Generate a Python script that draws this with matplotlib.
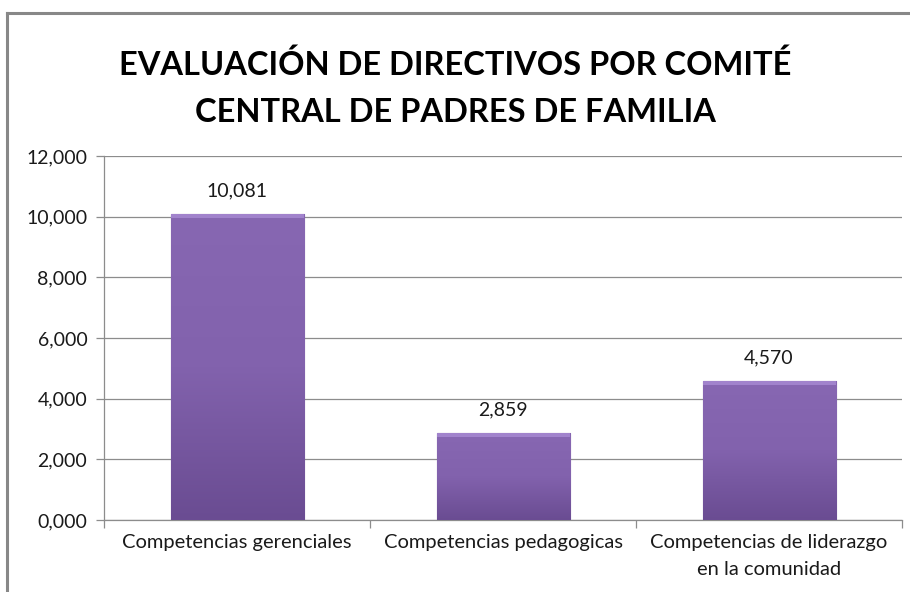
import numpy as np
import matplotlib
matplotlib.use('Agg')
import matplotlib.pyplot as plt
from matplotlib.ticker import FuncFormatter, FixedLocator
from matplotlib.colors import LinearSegmentedColormap
from matplotlib.patches import Rectangle

# Data
CATEGORIES = ['Competencias gerenciales', 'Competencias pedagogicas',
              'Competencias de liderazgo\nen la comunidad']
VALUES = [10.081, 2.859, 4.570]
TITLE = 'EVALUACIÓN DE DIRECTIVOS POR COMITÉ\nCENTRAL DE PADRES DE FAMILIA'

plt.rcParams['font.family'] = ['Lato', 'DejaVu Sans']

fig = plt.figure(figsize=(9.1, 5.92), dpi=100)
ax = fig.add_axes([0.1143, 0.1216, 0.8770, 0.6149])

x = np.arange(len(VALUES))
bars = ax.bar(x, VALUES, width=0.5, color='#7b5ba6', edgecolor='#5e4284',
              linewidth=0.8, zorder=3)

# vertical gradient fill clipped to each bar
cmap = LinearSegmentedColormap.from_list('purp', ['#6a4c92', '#8262ad', '#8767b2'])
grad = np.linspace(0, 1, 256).reshape(-1, 1)
for i, b in enumerate(bars):
    x0, y0 = b.get_x(), b.get_y()
    w, h = b.get_width(), b.get_height()
    im = ax.imshow(grad, cmap=cmap, origin='lower', aspect='auto',
                   extent=[x0, x0 + w, y0, y0 + h], zorder=3.5)
    im.set_clip_path(b)
    # light bevel on top
    ax.add_patch(Rectangle((x0, y0 + h - 0.12), w, 0.12, color='#a98bd3',
                           alpha=0.8, zorder=4, linewidth=0))
    ax.text(x0 + w / 2, y0 + h + 0.5, f'{VALUES[i]:.3f}'.replace('.', ','),
            ha='center', va='bottom', fontsize=14, color='#1a1a1a')

ax.set_xlim(-0.5, len(VALUES) - 0.5)
ax.set_ylim(0, 12)
ax.yaxis.set_major_locator(FixedLocator(np.arange(0, 13, 2)))
ax.yaxis.set_major_formatter(FuncFormatter(lambda v, p: f'{v:.3f}'.replace('.', ',')))
ax.grid(axis='y', color='#8c8c8c', linewidth=0.9, zorder=0)

ax.set_xticks(np.arange(-0.5, len(VALUES)), minor=False)
ax.set_xticklabels([])
ax.set_xticks(x, minor=True)
ax.set_xticklabels(CATEGORIES, minor=True, fontsize=14.5, color='#1a1a1a',
                   linespacing=1.7)
ax.tick_params(axis='x', which='minor', length=0, pad=10)
ax.tick_params(axis='x', which='major', length=6, color='#8c8c8c', width=0.9)
ax.tick_params(axis='y', length=6, color='#8c8c8c', width=0.9, labelsize=14,
               labelcolor='#1a1a1a', pad=6)

for s in ['top', 'right']:
    ax.spines[s].set_visible(False)
for s in ['left', 'bottom']:
    ax.spines[s].set_color('#8c8c8c')
    ax.spines[s].set_linewidth(0.9)

fig.text(0.5, 0.851, TITLE, ha='center', va='center', fontsize=23.5,
         fontweight='bold', linespacing=1.73, color='black')

# chart border (only top and left visible in the crop)
fig.add_artist(plt.Line2D([0.0077, 0.0077], [0, 0.978], color='#888888', lw=2.2))
fig.add_artist(plt.Line2D([0.0077, 1.0], [0.978, 0.978], color='#888888', lw=2.2))

fig.savefig('out.png', dpi=100)
